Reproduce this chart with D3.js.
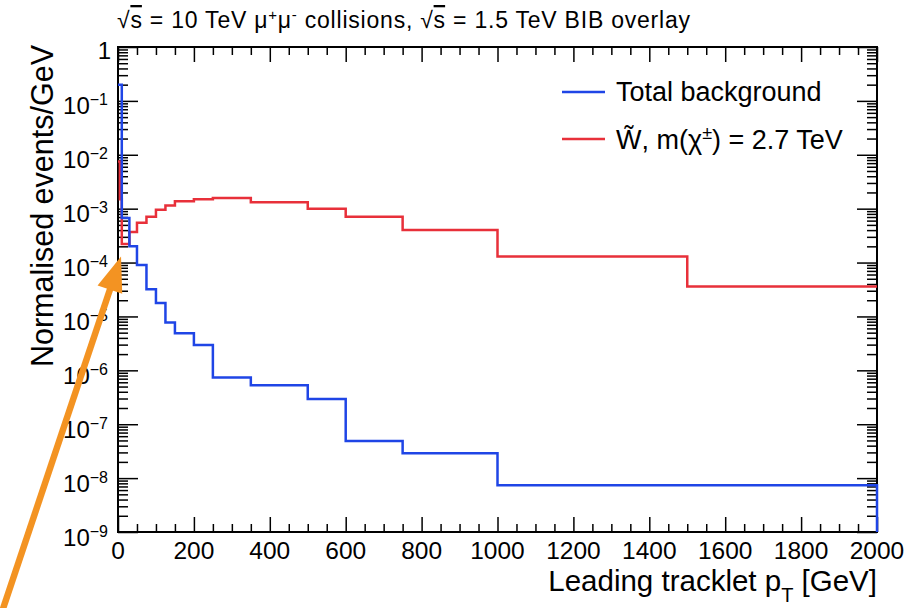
<!DOCTYPE html>
<html><head><meta charset="utf-8">
<script src="https://cdn.jsdelivr.net/npm/d3@7"></script>
<style>
body{margin:0;background:#fff;}
text{font-family:"Liberation Sans",Arial,Helvetica,sans-serif;fill:#000;}
</style></head>
<body><svg id="c" width="908" height="608"></svg>
<script>
// ---- data ----
const binEdges = [0,5,10,20,30,50,75,100,125,150,200,250,350,500,600,750,1000,1500,2000];
const bkgValues = [0.2,0.2,6.7e-4,6.7e-4,2.0e-4,9.0e-5,3.2e-5,1.78e-5,7.7e-6,4.9e-6,2.95e-6,7.4e-7,5.3e-7,2.95e-7,4.9e-8,2.9e-8,7.4e-9,7.4e-9];
const sigValues = [7.5e-3,1.5e-3,2.2e-4,2.2e-4,3.7e-4,5.5e-4,7.1e-4,9.5e-4,1.15e-3,1.37e-3,1.49e-3,1.58e-3,1.32e-3,1.0e-3,7.1e-4,4.0e-4,1.29e-4,3.6e-5];
const xTickLabels = [0,200,400,600,800,1000,1200,1400,1600,1800,2000];
const yDecades = [0,-1,-2,-3,-4,-5,-6,-7,-8,-9];
const legendLabels = ["Total background","W̃, m(χ±) = 2.7 TeV"];

const svg = d3.select("#c");
const L=118,R=877,T=47,B=532;
const x = d3.scaleLinear().domain([0,2000]).range([L,R]);
const y = d3.scaleLog().domain([1e-9,1]).range([B,T]);
const blue="#1f45e6", red="#e8303a";

// ticks
const xMinor = d3.range(0,2001,50).filter(v=>v%200!==0);
const yMinor = [];
yDecades.slice(1).forEach(d=>{for(let k=2;k<=9;k++) yMinor.push(k*Math.pow(10,d));});
const yMajor = yDecades.map(d=>Math.pow(10,d));

function addAxis(axis, tr){
  const g = svg.append("g").attr("transform",tr).call(axis);
  g.select(".domain").remove();
  g.selectAll("line").attr("stroke","#000").attr("stroke-width",1.5);
}
addAxis(d3.axisBottom(x).tickValues(xTickLabels).tickSize(-15).tickFormat(""),`translate(0,${B})`);
addAxis(d3.axisBottom(x).tickValues(xMinor).tickSize(-8).tickFormat(""),`translate(0,${B})`);
addAxis(d3.axisTop(x).tickValues(xTickLabels).tickSize(-15).tickFormat(""),`translate(0,${T})`);
addAxis(d3.axisTop(x).tickValues(xMinor).tickSize(-8).tickFormat(""),`translate(0,${T})`);
addAxis(d3.axisLeft(y).tickValues(yMajor).tickSize(-20).tickFormat(""),`translate(${L},0)`);
addAxis(d3.axisLeft(y).tickValues(yMinor).tickSize(-10).tickFormat(""),`translate(${L},0)`);
addAxis(d3.axisRight(y).tickValues(yMajor).tickSize(-20).tickFormat(""),`translate(${R},0)`);
addAxis(d3.axisRight(y).tickValues(yMinor).tickSize(-10).tickFormat(""),`translate(${R},0)`);

svg.append("rect").attr("x",L).attr("y",T).attr("width",R-L).attr("height",B-T)
  .attr("fill","none").attr("stroke","#000").attr("stroke-width",2);

// histograms
const step = d3.line().x(d=>x(d[0])).y(d=>y(d[1])).curve(d3.curveStepAfter);
const bkgPts = bkgValues.map((v,i)=>[binEdges[i],v]);
bkgPts.push([binEdges[binEdges.length-1],bkgValues[bkgValues.length-1]]);
bkgPts.push([binEdges[binEdges.length-1],1e-9]);
const sigPts = sigValues.map((v,i)=>[binEdges[i],v]);
sigPts.push([binEdges[binEdges.length-1],sigValues[sigValues.length-1]]);
svg.append("path").attr("d",step(sigPts)).attr("fill","none").attr("stroke",red).attr("stroke-width",2.5);
svg.append("path").attr("d",step(bkgPts)).attr("fill","none").attr("stroke",blue).attr("stroke-width",2.5);

// x labels
svg.append("g").selectAll("text").data(xTickLabels).join("text")
  .attr("x",d=>x(d)).attr("y",559).attr("text-anchor","middle").attr("font-size",24.5).text(d=>d);
// y labels
yDecades.forEach(d=>{
  const t = svg.append("text").attr("text-anchor","end").attr("font-size",24);
  if(d===0){ t.attr("x",111).attr("y",y(1)+12).text("1"); }
  else{
    t.attr("x",108).attr("y",y(Math.pow(10,d))+13.5);
    t.append("tspan").text("10");
    t.append("tspan").attr("font-size",16).attr("dy",-9).text("−"+Math.abs(d));
  }
});
// axis titles
svg.append("text").attr("transform",`translate(53,${T-2}) rotate(-90)`).attr("text-anchor","end")
  .attr("font-size",30.5).text("Normalised events/GeV");
const xt = svg.append("text").attr("x",R).attr("y",591).attr("text-anchor","end").attr("font-size",29.5);
xt.append("tspan").text("Leading tracklet p");
xt.append("tspan").attr("font-size",20).attr("dy",11).text("T");
xt.append("tspan").attr("dy",-11).text(" [GeV]");

// title
const tt = svg.append("text").attr("x",117).attr("y",28).attr("font-size",23)
  .attr("textLength",573).attr("lengthAdjust","spacing");
tt.append("tspan").text("√");
tt.append("tspan").attr("text-decoration","overline").text("s");
tt.append("tspan").text(" = 10 TeV μ");
tt.append("tspan").attr("font-size",15).attr("dy",-8).text("+");
tt.append("tspan").attr("dy",8).text("μ");
tt.append("tspan").attr("font-size",15).attr("dy",-8).text("-");
tt.append("tspan").attr("dy",8).text(" collisions, √");
tt.append("tspan").attr("text-decoration","overline").text("s");
tt.append("tspan").text(" = 1.5 TeV BIB overlay");

// legend
const legY=[92,139], legC=[blue,red];
legY.forEach((ly,i)=>{
  svg.append("line").attr("x1",562).attr("x2",605).attr("y1",ly).attr("y2",ly).attr("stroke",legC[i]).attr("stroke-width",2.5);
});
svg.append("text").attr("x",616).attr("y",101).attr("font-size",27).text(legendLabels[0]);
const l2 = svg.append("text").attr("x",616).attr("y",149).attr("font-size",27);
l2.append("tspan").text("W̃, m(χ");
l2.append("tspan").attr("font-size",18).attr("dy",-10).text("±");
l2.append("tspan").attr("dy",10).text(") = 2.7 TeV");

// annotation arrow
const tip=[x(8),y(1.3e-4)];
const dir=[0.318,-0.949], perp=[0.949,0.318];
const headLen=35, halfW=13;
const base=[tip[0]-dir[0]*headLen, tip[1]-dir[1]*headLen];
const tail=[tip[0]-dir[0]*400, tip[1]-dir[1]*400];
svg.append("line").attr("x1",tail[0]).attr("y1",tail[1]).attr("x2",base[0]+dir[0]*2).attr("y2",base[1]+dir[1]*2)
  .attr("stroke","#f39322").attr("stroke-width",6.5);
svg.append("path").attr("d",`M${tip[0]},${tip[1]}L${base[0]+perp[0]*halfW},${base[1]+perp[1]*halfW}L${base[0]-perp[0]*halfW},${base[1]-perp[1]*halfW}Z`)
  .attr("fill","#f39322");
</script></body></html>
